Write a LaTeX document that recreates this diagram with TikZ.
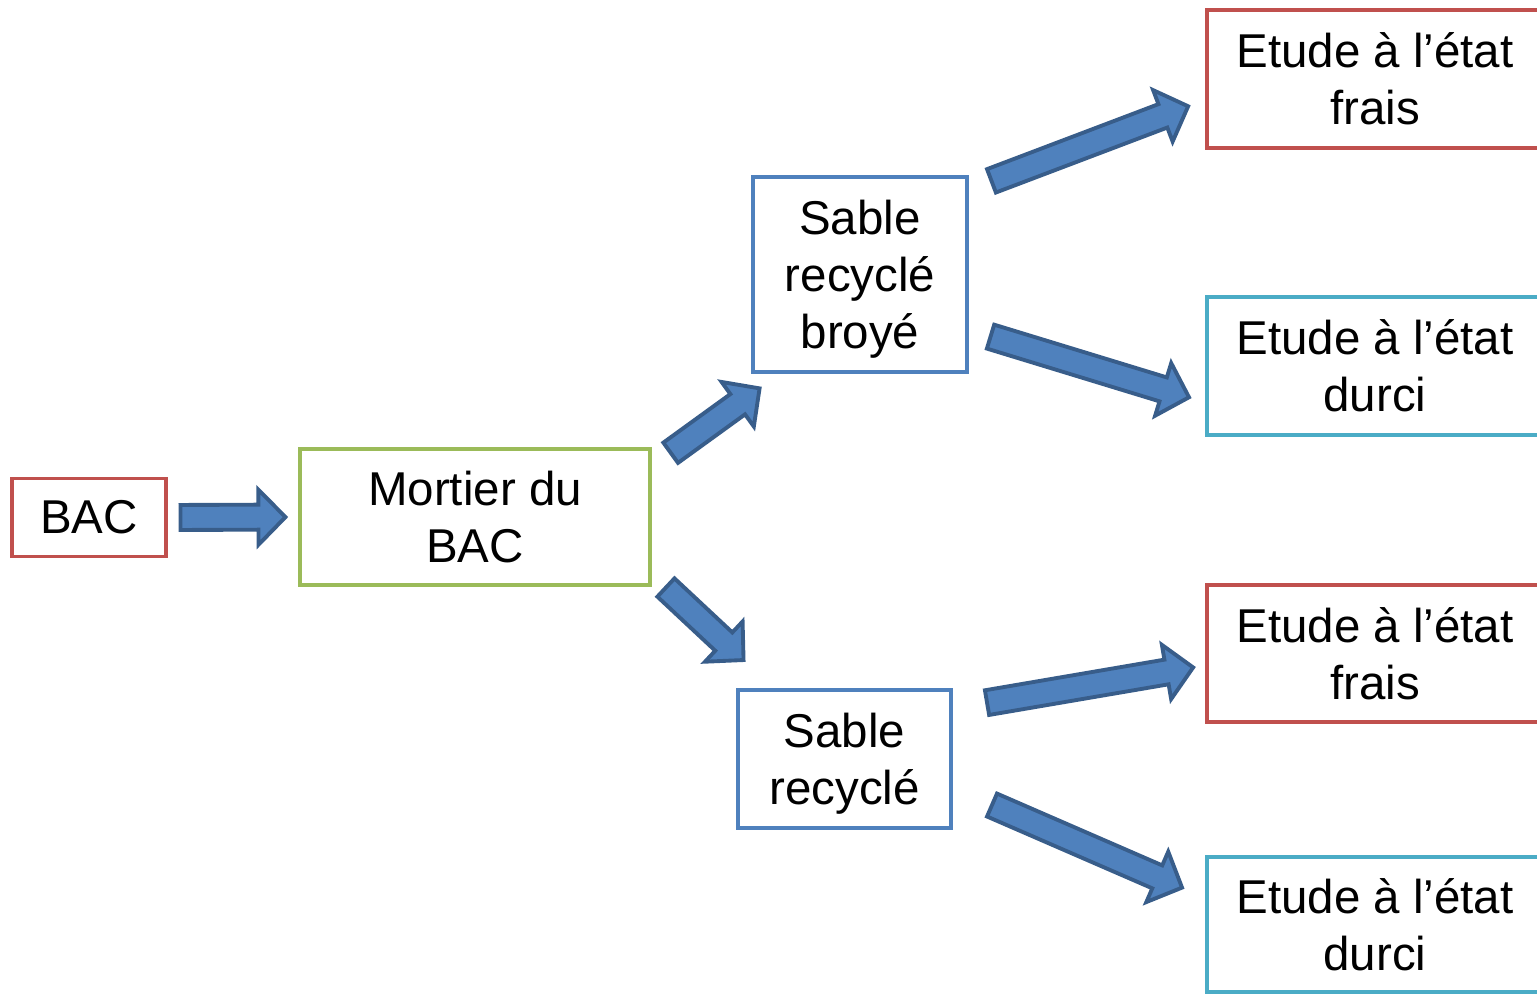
\documentclass[tikz,border=0pt]{standalone}
\usepackage{fontspec}
\setmainfont{Liberation Sans}
\usetikzlibrary{calc}

\definecolor{boxred}{HTML}{C0504D}
\definecolor{boxgreen}{HTML}{9BBB59}
\definecolor{boxblue}{HTML}{4F81BD}
\definecolor{boxcyan}{HTML}{4BACC6}
\definecolor{arrowfill}{HTML}{4F81BD}
\definecolor{arrowline}{HTML}{385D8A}

% last line without descender depth, so the text sits like the others
\newcommand\nodesc[1]{\raisebox{0pt}[\height][0pt]{#1}}

% block arrow between two anchors: #3 and #4 are the gaps at each end
\newcommand\blockarrow[4]{%
  \coordinate (ba-s) at ($(#1)!#3!(#2)$);
  \coordinate (ba-e) at ($(#2)!#4!(#1)$);
  \coordinate (ba-h) at ($(ba-e)!0.27cm!(ba-s)$);
  \filldraw[fatarrow] ($(ba-s)!0.125cm!90:(ba-e)$) -- ($(ba-h)!0.125cm!90:(ba-e)$)
    -- ($(ba-h)!0.275cm!90:(ba-e)$) -- (ba-e) -- ($(ba-h)!0.275cm!-90:(ba-e)$)
    -- ($(ba-h)!0.125cm!-90:(ba-e)$) -- ($(ba-s)!0.125cm!-90:(ba-e)$) -- cycle;
}

\begin{document}
\begin{tikzpicture}[x=0.01cm,y=-0.01cm,
    box/.style={draw,line width=1.1pt,fill=white,align=center,inner sep=0pt,
      font=\fontsize{13.5}{16.2}\selectfont},
    fatarrow/.style={fill=arrowfill,draw=arrowline,line width=1.1pt,line join=miter}]
  \useasboundingbox (0,0) rectangle (1537,993);

  \node[box,draw=boxred,minimum width=1.54cm,minimum height=0.78cm] (bac) at (89,517.5) {BAC};
  \node[box,draw=boxgreen,minimum width=3.5cm,minimum height=1.36cm] (mortier) at (475,517) {Mortier du\\BAC};
  \node[box,draw=boxblue,minimum width=2.14cm,minimum height=1.95cm] (broye) at (860,274.5) {Sable\\recyclé\\\nodesc{broyé}};
  \node[box,draw=boxblue,minimum width=2.13cm,minimum height=1.38cm] (recycle) at (844.5,759) {Sable\\\nodesc{recyclé}};

  \node[box,draw=boxred,minimum width=3.36cm,minimum height=1.38cm] (frais1) at (1375,79) {Etude à l’état\\frais};
  \node[box,draw=boxcyan,minimum width=3.36cm,minimum height=1.38cm] (durci1) at (1375,366) {Etude à l’état\\durci};
  \node[box,draw=boxred,minimum width=3.36cm,minimum height=1.37cm] (frais2) at (1375,653.5) {Etude à l’état\\frais};
  \node[box,draw=boxcyan,minimum width=3.36cm,minimum height=1.35cm] (durci2) at (1375,924.5) {Etude à l’état\\durci};

  \blockarrow{bac.east}{mortier.west}{0.125cm}{0.125cm}
  \blockarrow{mortier.16.6}{broye.231.1}{0.23cm}{0.245cm}
  \blockarrow{mortier.342.6}{recycle.135.9}{0.19cm}{0.41cm}
  \blockarrow{broye.38.4}{frais1.187.6}{0.24cm}{0.18cm}
  \blockarrow{broye.333.5}{durci1.192.2}{0.225cm}{0.167cm}
  \blockarrow{recycle.25.4}{frais2.184}{0.345cm}{0.12cm}
  \blockarrow{recycle.345.8}{durci2.171.5}{0.425cm}{0.25cm}
\end{tikzpicture}
\end{document}
